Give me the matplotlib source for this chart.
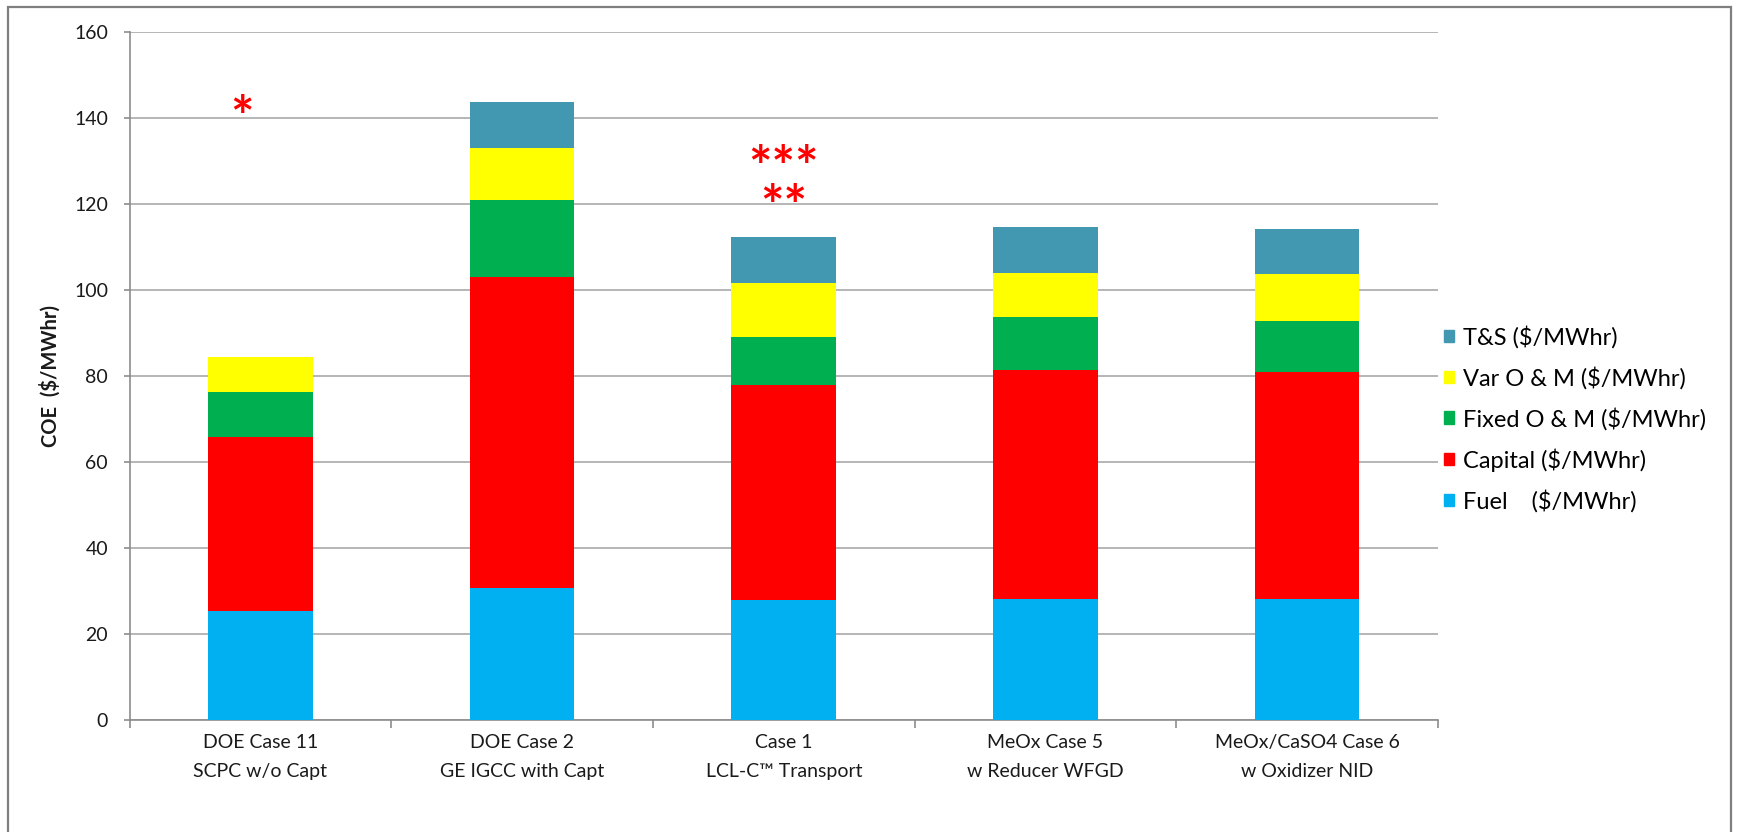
import matplotlib.pyplot as plt
import matplotlib.patches as mpatches
import numpy as np

plt.rcParams['font.family'] = ['Lato', 'DejaVu Sans']

# cost of electricity breakdown, $/MWhr
cases = ['DOE Case 11\nSCPC w/o Capt',
         'DOE Case 2\nGE IGCC with Capt',
         'Case 1\nLCL-C\u2122 Transport',
         'MeOx Case 5\nw Reducer WFGD',
         'MeOx/CaSO4 Case 6\nw Oxidizer NID']
fuel = [25.4, 30.8, 28.0, 28.1, 28.1]
capital = [40.4, 72.2, 49.8, 53.2, 52.8]
fixed_om = [10.4, 17.9, 11.3, 12.4, 11.9]
var_om = [8.2, 12.2, 12.6, 10.2, 10.9]
ts = [0.0, 10.6, 10.6, 10.7, 10.6]

series = [('Fuel    ($/MWhr)', fuel, '#00B0F0'),
          ('Capital ($/MWhr)', capital, '#FF0000'),
          ('Fixed O & M ($/MWhr)', fixed_om, '#00B050'),
          ('Var O & M ($/MWhr)', var_om, '#FFFF00'),
          ('T&S ($/MWhr)', ts, '#4298B0')]

W, H = 1737, 832
fig = plt.figure(figsize=(W / 100, H / 100), dpi=100)
ax = fig.add_axes([129.6 / W, 1 - 720 / H, (1438 - 129.6) / W, (720 - 32) / H])

x = np.arange(len(cases))
bottom = np.zeros(len(cases))
handles = []
for name, vals, col in series:
    vals = np.array(vals)
    ax.bar(x, vals, 0.4, bottom=bottom, color=col, linewidth=0, zorder=3)
    bottom += vals
    handles.append(mpatches.Patch(color=col, label=name))

ax.set_xlim(-0.5, len(cases) - 0.5)
ax.set_ylim(0, 160)
ax.set_yticks(np.arange(0, 161, 20))
ax.yaxis.grid(True, color='#A9A9A9', linewidth=1.2, zorder=0)
ax.set_axisbelow(True)

ax.set_xticks(x)
ax.set_xticklabels(cases, fontsize=14, linespacing=1.88, color='#1a1a1a')
ax.set_xticks(np.arange(-0.5, len(cases)), minor=True)
ax.tick_params(axis='x', which='major', length=0, pad=10)
ax.tick_params(axis='x', which='minor', length=6, width=1.2, color='#8C8C8C')
ax.tick_params(axis='y', length=4.5, width=1.2, color='#8C8C8C', pad=11,
               labelsize=14, labelcolor='#1a1a1a')

for side in ['top', 'right']:
    ax.spines[side].set_visible(False)
for side in ['left', 'bottom']:
    ax.spines[side].set_color('#8C8C8C')
    ax.spines[side].set_linewidth(1.2)

ax.set_ylabel('COE  ($/MWhr)', fontsize=14.5, fontweight='bold', color='#1a1a1a')
ax.yaxis.set_label_coords(-0.053, 0.5)

# footnote markers
star = dict(color='red', fontsize=40, fontweight='bold', ha='center', va='center')
ax.text(-0.07, 139.6, '*', **star)
ax.text(2.0, 123.4, '***\n**', multialignment='center', linespacing=0.74, **star)

fig.legend(handles=handles[::-1], loc='center left',
           bbox_to_anchor=(1444 / W, 1 - 419 / H), frameon=False,
           fontsize=17, handlelength=0.44, handleheight=0.44,
           handletextpad=0.38, labelspacing=0.76, borderpad=0, borderaxespad=0)

# chart area border
fig.patches.append(mpatches.Rectangle((8 / W, -0.02), (1731 - 8) / W, 1.02 - 7 / H,
                                      transform=fig.transFigure, fill=False,
                                      edgecolor='#7F7F7F', linewidth=1.6))

fig.savefig('out.png', dpi=100)
